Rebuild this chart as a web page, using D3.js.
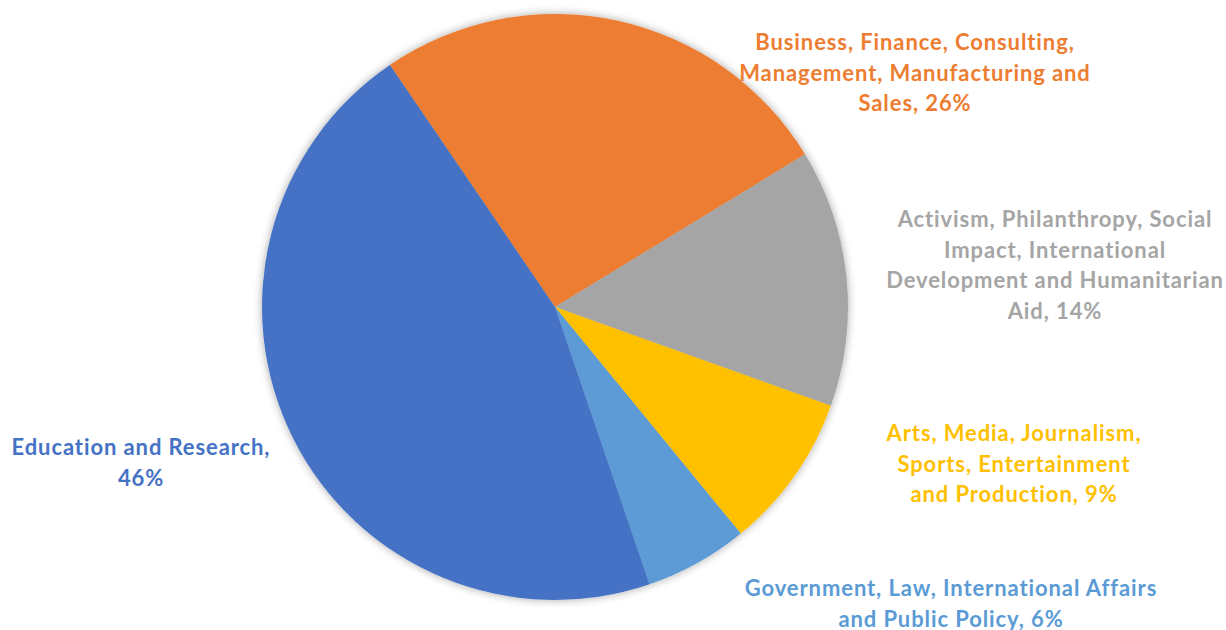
<!DOCTYPE html>
<html>
<head>
<script src="https://d3js.org/d3.v7.min.js"></script>
<style>
  body { margin: 0; background: #fff; }
</style>
</head>
<body>
<div id="chart"></div>
<script>
// slice data, in drawing order (clockwise)
var categories = [
  "Business, Finance, Consulting, Management, Manufacturing and Sales",
  "Activism, Philanthropy, Social Impact, International Development and Humanitarian Aid",
  "Arts, Media, Journalism, Sports, Entertainment and Production",
  "Government, Law, International Affairs and Public Policy",
  "Education and Research"
];
var values = [25.8, 14.2, 8.6, 5.7, 45.7];
var shownPct = ["26%", "14%", "9%", "6%", "46%"];
var colors = ["#ED7D31", "#A5A5A5", "#FFC000", "#5B9BD5", "#4472C4"];
// label lines as wrapped in the chart
var labelLines = [
  ["Business, Finance, Consulting,", "Management, Manufacturing and", "Sales, 26%"],
  ["Activism, Philanthropy, Social", "Impact, International", "Development and Humanitarian", "Aid, 14%"],
  ["Arts, Media, Journalism,", "Sports, Entertainment", "and Production, 9%"],
  ["Government, Law, International Affairs", "and Public Policy, 6%"],
  ["Education and Research,", "46%"]
];
// label anchor (center x, first line center y)
var labelPos = [[915, 42], [1055, 219], [1014, 433], [951, 588], [141, 447]];

var width = 1226, height = 630;
var cx = 555, cy = 307, r = 293;

var svg = d3.select("#chart").append("svg")
  .attr("width", width)
  .attr("height", height);

var defs = svg.append("defs");
var f = defs.append("filter").attr("id", "shadow")
  .attr("x", "-10%").attr("y", "-10%").attr("width", "120%").attr("height", "120%");
f.append("feDropShadow")
  .attr("dx", 0).attr("dy", 0)
  .attr("stdDeviation", 4)
  .attr("flood-color", "#000")
  .attr("flood-opacity", 0.35);

var startA = -34.3 * Math.PI / 180;
var pie = d3.pie().sort(null)
  .startAngle(startA)
  .endAngle(startA + 2 * Math.PI)
  .value(function(d) { return d; });

var arc = d3.arc().innerRadius(0).outerRadius(r);

var g = svg.append("g")
  .attr("transform", "translate(" + cx + "," + cy + ")")
  .attr("filter", "url(#shadow)");

g.selectAll("path")
  .data(pie(values))
  .enter().append("path")
  .attr("d", arc)
  .attr("fill", function(d, i) { return colors[i]; });

var lineH = 30.8;
labelLines.forEach(function(lines, i) {
  var t = svg.append("text")
    .attr("text-anchor", "middle")
    .attr("fill", colors[i])
    .style("font-family", "Lato, 'Open Sans', sans-serif")
    .style("font-weight", "bold")
    .style("font-size", "22px")
    .style("letter-spacing", "0.9px");
  lines.forEach(function(s, j) {
    t.append("tspan")
      .attr("x", labelPos[i][0])
      .attr("y", labelPos[i][1] + j * lineH)
      .attr("dy", "0.35em")
      .text(s);
  });
});
</script>
</body>
</html>
